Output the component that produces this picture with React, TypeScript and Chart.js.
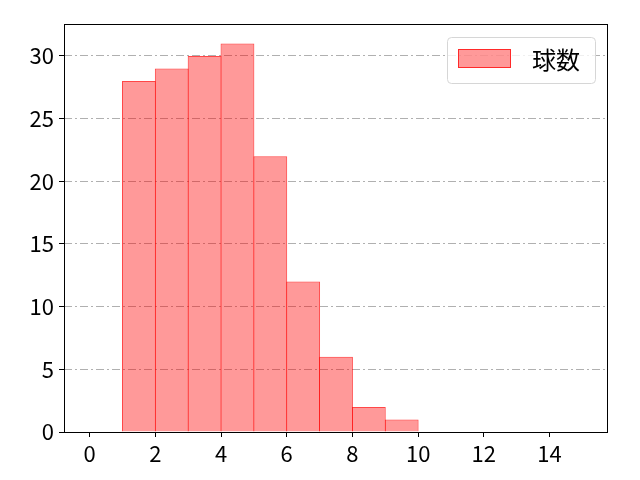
import Chart from "chart.js/auto";
import { useEffect, useRef } from "react";

// histogram: bins of width 1, starting at binStarts[i]
const binStarts = [1, 2, 3, 4, 5, 6, 7, 8, 9];
const counts = [28, 29, 30, 31, 22, 12, 6, 2, 1];
const legendLabel = "球数";
const xTicks = [0, 2, 4, 6, 8, 10, 12, 14];
const yTicks = [0, 5, 10, 15, 20, 25, 30];

const FONT = "'Noto Sans CJK JP', 'DejaVu Sans', sans-serif";
const FILL = "rgba(255, 0, 0, 0.4)";
const EDGE = "rgba(255, 0, 0, 0.72)";

const frameAndLegend = {
  id: "frameAndLegend",
  afterDraw(chart: any) {
    const { ctx, chartArea } = chart;
    const { left, right, top, bottom } = chartArea;
    ctx.save();
    // axes box
    ctx.strokeStyle = "#000";
    ctx.lineWidth = 1;
    ctx.strokeRect(left + 0.5, top + 0.5, right - left - 1, bottom - top);

    // legend
    const bx = right - 161;
    const by = top + 13;
    const bw = 148;
    const bh = 46;
    ctx.beginPath();
    ctx.roundRect(bx + 0.5, by + 0.5, bw, bh, 4);
    ctx.fillStyle = "rgba(255,255,255,0.8)";
    ctx.fill();
    ctx.strokeStyle = "#d6d6d6";
    ctx.stroke();

    ctx.fillStyle = FILL;
    ctx.fillRect(bx + 11, by + 12, 53, 19);
    ctx.strokeStyle = EDGE;
    ctx.strokeRect(bx + 11.5, by + 12.5, 52, 18);

    ctx.fillStyle = "#000";
    ctx.font = `24px ${FONT}`;
    ctx.textBaseline = "middle";
    ctx.textAlign = "left";
    ctx.fillText(legendLabel, bx + 85, by + 23);
    ctx.restore();
  },
};

export default function App() {
  const canvasRef = useRef<HTMLCanvasElement | null>(null);

  useEffect(() => {
    const canvas = canvasRef.current;
    if (!canvas) return;
    const ctx = canvas.getContext("2d");
    if (!ctx) return;

    const chart = new Chart(ctx, {
      type: "bar",
      data: {
        datasets: [
          {
            label: legendLabel,
            data: binStarts.map((s, i) => ({ x: s + 0.5, y: counts[i] })),
            backgroundColor: FILL,
            borderColor: EDGE,
            borderWidth: 1,
            // slight overlap so neighbouring edges share one line
            barPercentage: 1.03,
            categoryPercentage: 1,
          },
        ],
      },
      options: {
        animation: false,
        responsive: false,
        devicePixelRatio: 1,
        layout: { padding: { top: 24, right: 32, left: 0, bottom: 0 } },
        plugins: {
          legend: { display: false },
          tooltip: { enabled: false },
        },
        scales: {
          x: {
            type: "linear",
            offset: false,
            min: -0.78,
            max: 15.78,
            afterBuildTicks: (scale: any) => {
              scale.ticks = xTicks.map((v) => ({ value: v }));
            },
            afterFit: (scale: any) => {
              scale.height = 48;
            },
            grid: {
              offset: false,
              drawOnChartArea: false,
              tickLength: 5,
              color: "#000",
            },
            border: { display: false },
            ticks: {
              color: "#000",
              padding: 3,
              font: { family: FONT, size: 22 },
              maxRotation: 0,
            },
          },
          y: {
            min: 0,
            max: 32.55,
            afterBuildTicks: (scale: any) => {
              scale.ticks = yTicks.map((v) => ({ value: v }));
            },
            afterFit: (scale: any) => {
              scale.width = 64;
            },
            grid: {
              color: "#b0b0b0",
              lineWidth: 1,
              tickLength: 5,
              tickColor: "#000",
              tickBorderDash: [],
            },
            border: { display: false, dash: [8, 3, 2, 3] },
            ticks: {
              color: "#000",
              padding: 5,
              font: { family: FONT, size: 22 },
            },
          },
        },
      },
      plugins: [frameAndLegend],
    });

    return () => {
      chart.destroy();
    };
  }, []);

  return (
    <div style={{ position: "fixed", left: 0, top: 0, width: 640, height: 480 }}>
      <canvas
        ref={canvasRef}
        width={640}
        height={480}
        aria-label="球数 histogram"
        role="img"
      ></canvas>
    </div>
  );
}
